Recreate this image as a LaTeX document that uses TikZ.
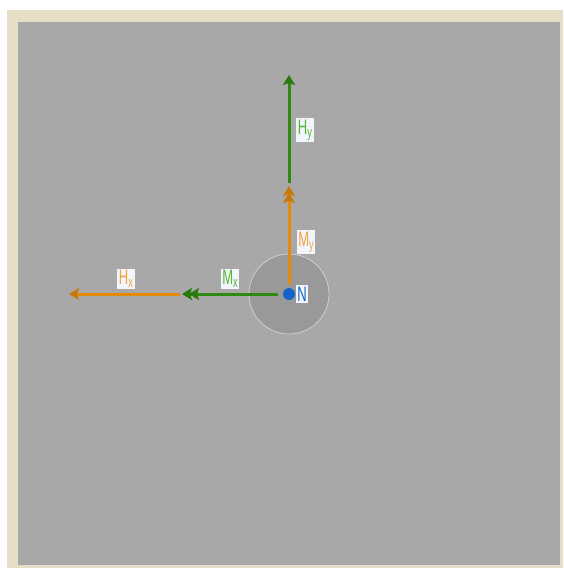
\documentclass[tikz,border=0pt]{standalone}
\usepackage{fontspec}
\setmainfont{Liberation Sans}
\newfontfamily\tagfont[FakeStretch=0.62]{Liberation Sans}
\usepackage{xcolor}
\usetikzlibrary{arrows.meta,positioning}

\definecolor{frameBeige}{HTML}{E6DEC6}
\definecolor{paneGray}{HTML}{A8A8A8}
\definecolor{discGray}{HTML}{999999}
\definecolor{discEdge}{HTML}{CFCFCF}
\definecolor{forceOrange}{HTML}{E38A0C}
\definecolor{forceGreen}{HTML}{2E8A10}
\definecolor{txtOrange}{HTML}{F2A33A}
\definecolor{txtGreen}{HTML}{52BA2E}
\definecolor{nodeBlue}{HTML}{1565C8}
\definecolor{tagWhite}{HTML}{F2F5FC}

\newcommand{\lowsub}[1]{\raisebox{-3pt}{\fontsize{15}{15}\selectfont #1}}

\begin{document}
\begin{tikzpicture}[x=1pt, y=-1pt,
    force/.style={line width=3pt, draw=#1, -{Stealth[length=10pt, width=12pt, inset=2pt, color=#1!88!black]}},
    moment/.style={line width=3pt, draw=#1, -{Stealth[length=10pt, width=12pt, inset=2pt, color=#1!88!black, sep=-3pt] Stealth[length=10pt, width=12pt, inset=2pt, color=#1!88!black]}},
    tag/.style={fill=tagWhite, inner sep=1.5pt, font=\tagfont\fontsize{21}{21}\selectfont}]
    % frame and panel
    \useasboundingbox (0,0) rectangle (563,568);
    \fill[frameBeige] (7,10) rectangle (563,568);
    \fill[paneGray] (18,22) rectangle (560,565);
    % node disc
    \draw[fill=discGray, draw=discEdge, line width=0.8pt] (289,294) circle (40);
    \fill[nodeBlue] (289,294) circle (6) coordinate (n);
    \node[tag, text=nodeBlue] (nlbl) at (302,294) {N};
    % moments at the node
    \coordinate (mxs) at (278,294);
    \coordinate (mxe) at (182,294);
    \coordinate (mys) at (289,284);
    \coordinate (mye) at (289,186);
    \draw[moment=forceGreen] (mxs) -- (mxe);
    \draw[moment=forceOrange] (mys) -- (mye);
    \node[tag, text=txtGreen] (mxlbl) at (230,279) {M\lowsub{x}};
    \node[tag, text=txtOrange] (mylbl) at (306,242) {M\lowsub{y}};
    % forces
    \coordinate (hxs) at (180,294);
    \coordinate (hxe) at (69,294);
    \coordinate (hys) at (289,183);
    \coordinate (hye) at (289,75);
    \draw[force=forceOrange] (hxs) -- (hxe);
    \draw[force=forceGreen] (hys) -- (hye);
    \node[tag, text=txtOrange] (hxlbl) at (126,279) {H\lowsub{x}};
    \node[tag, text=txtGreen] (hylbl) at (305,130) {H\lowsub{y}};
\end{tikzpicture}
\end{document}
